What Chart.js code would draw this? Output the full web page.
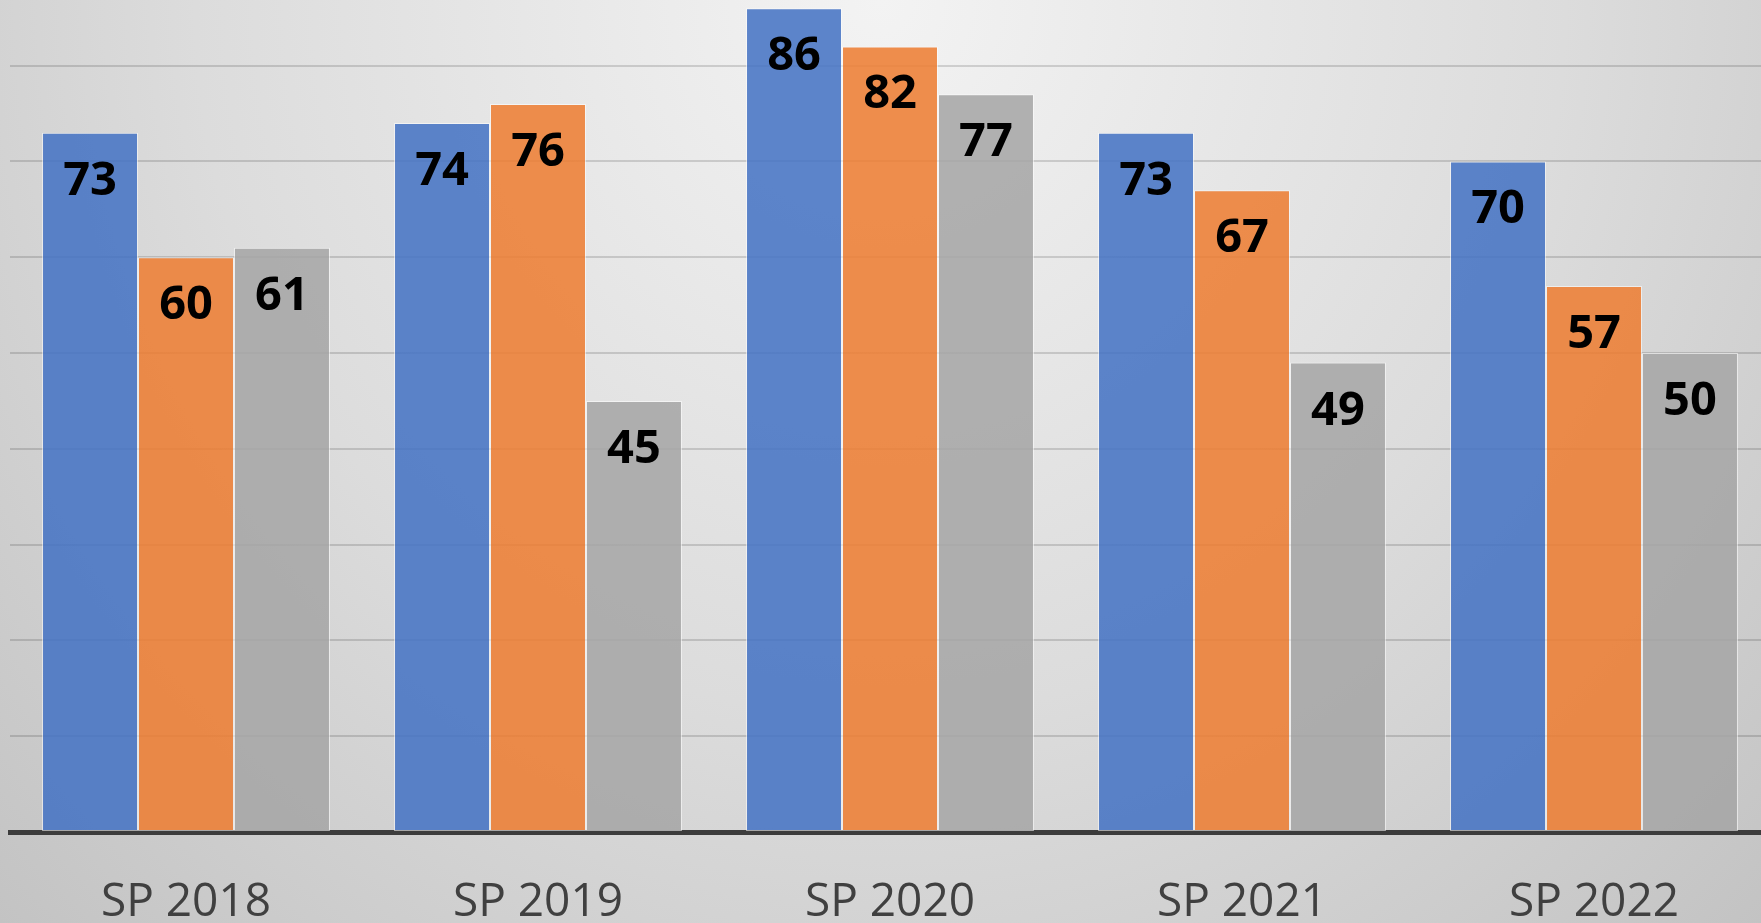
<!DOCTYPE html>
<html lang="en">
<head>
    <meta charset="UTF-8">
    <title>SP Results</title>
    <script src="https://cdn.jsdelivr.net/npm/chart.js"></script>
    <style>
        html, body {
            margin: 0;
            padding: 0;
            width: 1761px;
            height: 923px;
            overflow: hidden;
        }
        body {
            background: radial-gradient(ellipse farthest-corner at 50% 0%, #f3f3f3 0%, #dcdcdc 55%, #c3c3c3 100%);
        }
        .chart-box {
            position: absolute;
            left: 0;
            top: 0;
            width: 1770px;
            height: 923px;
        }
    </style>
</head>
<body>
    <div class="chart-box">
        <canvas id="spChart"></canvas>
    </div>

    <script>
        // values
        const categories = ['SP 2018', 'SP 2019', 'SP 2020', 'SP 2021', 'SP 2022'];
        const blueValues = [73, 74, 86, 73, 70];
        const orangeValues = [60, 76, 82, 67, 57];
        const greyValues = [61, 45, 77, 49, 50];
        const gridStep = 10;

        // draws the bold numbers inside the top of every bar
        const barLabels = {
            id: 'barLabels',
            afterDatasetsDraw(chart) {
                const ctx = chart.ctx;
                ctx.save();
                ctx.font = 'bold 47px "Open Sans"';
                ctx.fillStyle = '#000000';
                ctx.textAlign = 'center';
                ctx.textBaseline = 'alphabetic';
                chart.data.datasets.forEach((ds, i) => {
                    chart.getDatasetMeta(i).data.forEach((bar, j) => {
                        ctx.fillText(ds.data[j], bar.x, bar.y + 62);
                    });
                });
                ctx.restore();
            }
        };

        const ctxBar = document.getElementById('spChart').getContext('2d');
        const spChart = new Chart(ctxBar, {
            type: 'bar',
            data: {
                labels: categories,
                datasets: [{
                    data: blueValues,
                    backgroundColor: 'rgba(68, 114, 196, 0.86)',
                    borderColor: 'rgba(255, 255, 255, 0.55)',
                    borderWidth: 1,
                    borderSkipped: false
                }, {
                    data: orangeValues,
                    backgroundColor: 'rgba(237, 125, 49, 0.86)',
                    borderColor: 'rgba(255, 255, 255, 0.55)',
                    borderWidth: 1,
                    borderSkipped: false
                }, {
                    data: greyValues,
                    backgroundColor: 'rgba(165, 165, 165, 0.86)',
                    borderColor: 'rgba(255, 255, 255, 0.55)',
                    borderWidth: 1,
                    borderSkipped: false
                }]
            },
            options: {
                responsive: true,
                maintainAspectRatio: false,
                animation: false,
                layout: {
                    padding: { left: 10, right: 0, top: 0, bottom: 0 }
                },
                datasets: {
                    bar: {
                        categoryPercentage: 0.818,
                        barPercentage: 1.0
                    }
                },
                plugins: {
                    legend: { display: false },
                    tooltip: { enabled: false }
                },
                scales: {
                    x: {
                        z: 1, // axis line sits on top of the bars
                        grid: {
                            display: true,
                            drawOnChartArea: false,
                            drawTicks: false,
                            color: 'rgba(0, 0, 0, 0)'
                        },
                        border: { display: true, color: '#3c3c3c', width: 5 },
                        ticks: {
                            color: '#404040',
                            font: { family: 'Open Sans', size: 46 },
                            padding: 43,
                            maxRotation: 0
                        },
                        afterFit(scale) { scale.height = 91; }
                    },
                    y: {
                        min: 0,
                        max: 86.85,
                        ticks: { display: false, stepSize: gridStep },
                        border: { display: false },
                        grid: {
                            drawTicks: false,
                            lineWidth: 2,
                            color: (c) => (c.tick && c.tick.value > 0 && c.tick.value % gridStep === 0)
                                ? 'rgba(0, 0, 0, 0.14)' : 'rgba(0, 0, 0, 0)'
                        },
                        afterFit(scale) { scale.width = 0; }
                    }
                }
            },
            plugins: [barLabels]
        });
    </script>
</body>
</html>
